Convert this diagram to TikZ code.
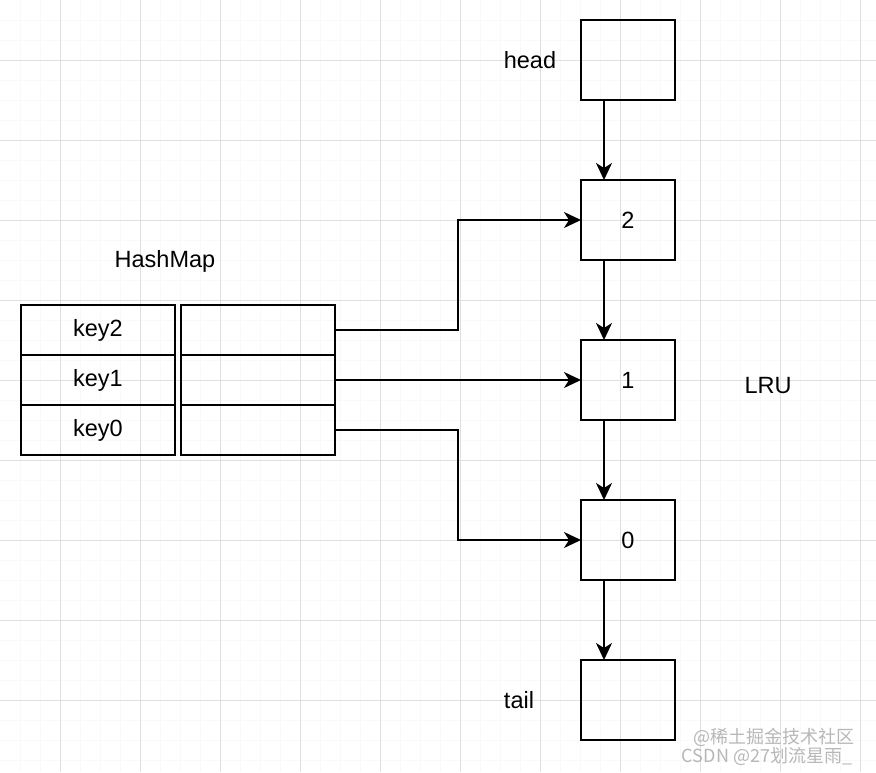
\documentclass[tikz,border=0pt]{standalone}
\usepackage{fontspec}
\setmainfont{Liberation Sans}
\newfontfamily\cjkfont{Noto Sans CJK SC}
\usetikzlibrary{positioning, arrows.meta, calc}

\begin{document}
\begin{tikzpicture}[
    x=1pt, y=-1pt,
    line width=2pt,
    >={Stealth[length=17pt, width=16pt, inset=5pt]},
    node distance=80pt,
    every node/.style={font=\fontsize{23.5}{28}\selectfont},
    listbox/.style={draw, minimum width=94pt, minimum height=80pt, outer sep=0pt},
    cell/.style={draw, minimum width=154pt, minimum height=50pt, outer sep=0pt},
    minorgrid/.style={line width=1pt, gray!5},
    majorgrid/.style={line width=1pt, gray!25},
    watermark/.style={text=gray!70, opacity=.8, inner sep=0pt, font=\cjkfont\fontsize{18}{19}\selectfont}
]
    % Background grid
    \fill[white] (0,0) rectangle (876,772);
    \useasboundingbox (0,0) rectangle (876,772);
    \foreach \x in {20,40,...,860} \draw[minorgrid] (\x,0) -- (\x,772);
    \foreach \y in {20,40,...,760} \draw[minorgrid] (0,\y) -- (876,\y);
    \foreach \x in {60,140,...,860} \draw[majorgrid] (\x,0) -- (\x,772);
    \foreach \y in {60,140,...,700} \draw[majorgrid] (0,\y) -- (876,\y);

    % LRU list
    \node[listbox] (head) at (628,60) {};
    \node[listbox, below=of head] (n2) {2};
    \node[listbox, below=of n2] (n1) {1};
    \node[listbox, below=of n1] (n0) {0};
    \node[listbox, below=of n0] (tail) {};

    \node (headlbl) at (530,60) {head};
    \node (taillbl) at (519,700) {tail};
    \node (lrulbl) at (768,386) {LRU};

    % HashMap
    \node (maplbl) at (165,261) {HashMap};
    \node[cell] (key2) at (98,330) {key2};
    \node[cell, below=0pt of key2] (key1) {key1};
    \node[cell, below=0pt of key1] (key0) {key0};
    \node[cell, right=6pt of key2] (val2) {};
    \node[cell, right=6pt of key1] (val1) {};
    \node[cell, right=6pt of key0] (val0) {};

    % Links
    \foreach \a/\b in {head/n2, n2/n1, n1/n0, n0/tail}
        \draw[->] ([xshift=-24pt]\a.south) -- ([xshift=-24pt]\b.north);
    \draw[->] (val2.east) -| ($(val2.east)!.5!(n2.west)$) |- (n2.west);
    \draw[->] (val1.east) -- (n1.west);
    \draw[->] (val0.east) -| ($(val0.east)!.5!(n0.west)$) |- (n0.west);

    % Watermark
    \node[watermark] (wm1) at (774,737) {@稀土掘金技术社区};
    \node[watermark] (wm2) at (767,756) {CSDN @27划流星雨\_};
\end{tikzpicture}
\end{document}
